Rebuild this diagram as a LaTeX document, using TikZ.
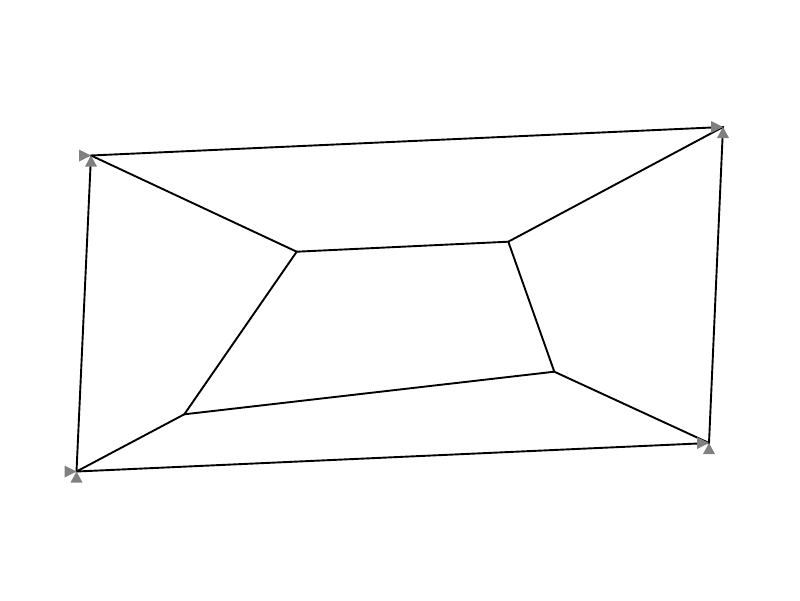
\documentclass[tikz,border=0pt]{standalone}
\begin{document}
\begin{tikzpicture}[x=1pt,y=-1pt,
  edge/.style={line width=1.9pt,black},
  marker/.style={fill=gray,draw=none}]
\useasboundingbox (0,0) rectangle (800,600);
\coordinate (TL) at (91,155.5);
\coordinate (TR) at (723,127);
\coordinate (BR) at (709,443);
\coordinate (BL) at (76.5,471.5);
\coordinate (A) at (296.7,251.7);
\coordinate (B) at (508.3,241.7);
\coordinate (C) at (554.3,371.7);
\coordinate (D) at (184.3,414.3);
\draw[edge] (TL) -- (TR) -- (BR) -- (BL) -- cycle;
\draw[edge] (A) -- (B) -- (C) -- (D) -- cycle;
\draw[edge] (TL) -- (A);
\draw[edge] (TR) -- (B);
\draw[edge] (BR) -- (C);
\draw[edge] (BL) -- (D);
\foreach \p in {TL,TR,BR,BL}{
  \fill[marker] (\p) -- ++(-12,-6) -- ++(0,12) -- cycle;
  \fill[marker] (\p) -- ++(-6,11) -- ++(12,0) -- cycle;
}
\end{tikzpicture}
\end{document}
